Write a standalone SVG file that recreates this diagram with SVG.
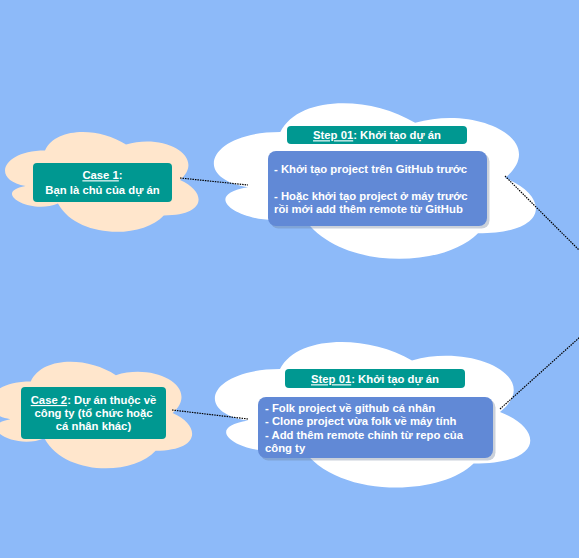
<svg xmlns="http://www.w3.org/2000/svg" xmlns:xlink="http://www.w3.org/1999/xlink" width="579" height="558" viewBox="0 0 579 558">
<style>
.bg{fill:#8dbaf9}
.peach{fill:#ffe6cc}
.white{fill:#ffffff}
.teal{fill:#009891}
.blue{fill:#6189d6}
.shadow{fill:#6b7a95;opacity:0.35}
.t{font-family:"Liberation Sans",Arial,sans-serif;font-weight:bold;font-size:11.3px;fill:#ffffff}
.c{text-anchor:middle}
.edge{stroke:#000000;stroke-width:1.2;stroke-dasharray:1.5 1;fill:none}
</style>
<defs>
<path id="cloud" d="M25,25 C5,25 0,50 16,55 C0,60 18,80 31,70 C40,100 70,100 80,80 C100,80 100,60 87.5,50 C100,30 80,10 62.5,20 C50,5 30,5 25,25 Z"/>
</defs>
<rect class="bg" x="0" y="0" width="579" height="558"/>
<g id="case1">
<use xlink:href="#cloud" class="peach" transform="translate(-9,121) scale(2.16,1.18)"/>
<rect class="teal" x="33" y="163" width="139" height="39" rx="4"/>
<text class="t c" x="102.5" y="179.3"><tspan text-decoration="underline">Case 1</tspan>:</text>
<text class="t c" x="102.5" y="194">Bạn là chủ của dự án</text>
</g>
<g id="step1">
<use xlink:href="#cloud" class="white" transform="translate(190.5,86) scale(3.594,1.84)"/>
<rect class="teal" x="287" y="126" width="180" height="18" rx="4"/>
<text class="t c" x="377" y="139.3"><tspan text-decoration="underline">Step 01</tspan>: Khởi tạo dự án</text>
<rect class="shadow" x="270.5" y="153.5" width="219" height="75" rx="8"/>
<rect class="blue" x="268" y="151" width="219" height="75" rx="8"/>
<text class="t" x="274" y="173.3">- Khởi tạo project trên GitHub trước</text>
<text class="t" x="274" y="200">- Hoặc khởi tạo project ở máy trước</text>
<text class="t" x="274" y="212.7">rồi mới add thêm remote từ GitHub</text>
</g>
<g id="case2">
<use xlink:href="#cloud" class="peach" transform="translate(-26,350) scale(2.27,1.26)"/>
<rect class="teal" x="21" y="387" width="145" height="52" rx="4"/>
<text class="t c" x="93.5" y="404"><tspan text-decoration="underline">Case 2</tspan>: Dự án thuộc về</text>
<text class="t c" x="93.5" y="417">công ty (tổ chức hoặc</text>
<text class="t c" x="93.5" y="430">cá nhân khác)</text>
</g>
<g id="step2">
<use xlink:href="#cloud" class="white" transform="translate(192,326) scale(3.52,1.72)"/>
<rect class="teal" x="285" y="369" width="180" height="19" rx="4"/>
<text class="t c" x="375" y="383.3"><tspan text-decoration="underline">Step 01</tspan>: Khởi tạo dự án</text>
<rect class="shadow" x="260.5" y="399.5" width="235" height="61" rx="8"/>
<rect class="blue" x="258" y="397" width="235" height="61" rx="8"/>
<text class="t" x="265" y="411.7">- Folk project về github cá nhân</text>
<text class="t" x="265" y="425">- Clone project vừa folk về máy tính</text>
<text class="t" x="265" y="438.5">- Add thêm remote chính từ repo của</text>
<text class="t" x="265" y="451.7">công ty</text>
</g>
<g id="connectors">
<path class="edge" d="M180,178 L248,185"/>
<path class="edge" d="M505,176 L590,261"/>
<path class="edge" d="M172,410 L248,419"/>
<path class="edge" d="M500,409 L590,328"/>
</g>
</svg>
